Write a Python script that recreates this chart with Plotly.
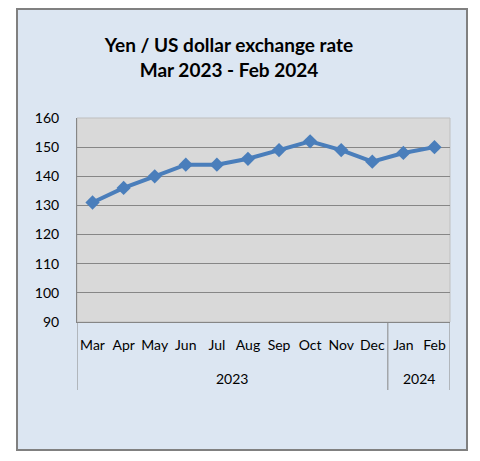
import plotly.graph_objects as go

months = ["Mar", "Apr", "May", "Jun", "Jul", "Aug", "Sep", "Oct", "Nov", "Dec", "Jan", "Feb"]
years = ["2023"] * 10 + ["2024"] * 2
rates = [131, 136, 140, 144, 144, 146, 149, 152, 149, 145, 148, 150]
y_ticks = [90, 100, 110, 120, 130, 140, 150, 160]

OFF = 8  # page body margin
W, H = 480 - OFF, 461 - OFF
L, R, T, B = 77 - OFF, 450 - OFF, 118 - OFF, 322 - OFF
pw, ph = R - L, B - T

def px_x(p):
    return (p - OFF - L) / pw

def px_y(p):
    return (B - (p - OFF)) / ph

FONT = "Lato, Liberation Sans, sans-serif"
GRID = "#868686"

# year groups (from the years list)
groups = []
for i, yr in enumerate(years):
    if groups and groups[-1][0] == yr:
        groups[-1][2] = i
    else:
        groups.append([yr, i, i])

fig = go.Figure()
fig.add_trace(go.Scatter(
    x=months, y=rates, mode="lines+markers",
    line=dict(color="#4a7ebb", width=4),
    marker=dict(symbol="diamond", size=11, color="#4a7ebb"),
    showlegend=False, cliponaxis=False,
))

shapes = [
    dict(type="rect", xref="paper", yref="paper", layer="below",
         x0=px_x(17), x1=px_x(467), y0=px_y(450), y1=px_y(9),
         fillcolor="#dce6f2", line=dict(color="#808080", width=2)),
    dict(type="rect", xref="paper", yref="paper", layer="below",
         x0=0, x1=1, y0=0, y1=1,
         fillcolor="#d9d9d9", line=dict(color="#bfbfbf", width=1)),
]
annotations = []
bounds = sorted({g[1] - 0.5 for g in groups} | {g[2] + 0.5 for g in groups})
for b in bounds:
    shapes.append(dict(type="line", xref="x", yref="paper", x0=b, x1=b,
                       y0=0, y1=px_y(390), line=dict(color=GRID, width=1)))
for yr, a, b in groups:
    annotations.append(dict(x=(a + b) / 2, xref="x", y=px_y(378), yref="paper",
                            text=yr, showarrow=False, xanchor="center", yanchor="middle",
                            font=dict(family=FONT, size=14, color="#000000")))

fig.update_layout(
    width=W, height=H,
    margin=dict(l=L, r=W - R, t=T, b=H - B, pad=0),
    paper_bgcolor="white",
    plot_bgcolor="rgba(0,0,0,0)",
    font=dict(family=FONT, size=14, color="#000000"),
    title=dict(
        text="<b>Yen / US dollar exchange rate<br>Mar 2023 - Feb 2024</b>",
        x=px_x(229), xref="paper", xanchor="center",
        y=1 - (52 - OFF) / H, yref="container", yanchor="top",
        font=dict(family=FONT, size=19, color="#000000"),
    ),
    shapes=shapes,
    annotations=annotations,
    xaxis=dict(
        type="category",
        showgrid=False,
        showline=True, linecolor=GRID, linewidth=1,
        tickfont=dict(family=FONT, size=14, color="#000000"),
        tickangle=0, ticklabelstandoff=10,
        range=[-0.5, len(months) - 0.5],
        ticks="",
    ),
    yaxis=dict(
        range=[90, 160], tickvals=y_ticks,
        showgrid=True, gridcolor=GRID, gridwidth=1,
        showline=True, linecolor=GRID, linewidth=1,
        zeroline=False,
        ticks="", ticklabelstandoff=14,
        tickfont=dict(family=FONT, size=14, color="#000000"),
    ),
)

fig.write_html("out.html")
